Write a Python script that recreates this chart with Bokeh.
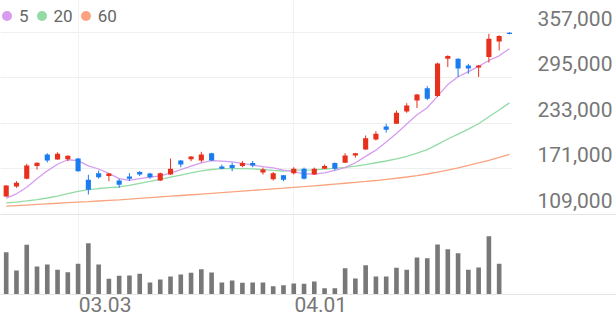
from bokeh.plotting import figure
from bokeh.models import (Range1d, LinearAxis, Grid, FixedTicker, Legend, LegendItem,
                          ColumnDataSource, NumeralTickFormatter)
from bokeh.core.properties import value
from bokeh.layouts import column
from bokeh.embed import file_html
from bokeh.resources import INLINE

# ---------------- data ----------------
dates = ["02.19", "02.20", "02.23", "02.24", "02.25", "02.26", "02.27",
         "03.03", "03.04", "03.05", "03.06", "03.09", "03.10", "03.11", "03.12", "03.13",
         "03.16", "03.17", "03.18", "03.19", "03.20", "03.23", "03.24", "03.25", "03.26",
         "03.27", "03.30", "03.31",
         "04.01", "04.02", "04.03", "04.06", "04.07", "04.08", "04.09", "04.10", "04.13",
         "04.14", "04.15", "04.16", "04.17", "04.20", "04.21", "04.22", "04.23", "04.24",
         "04.27", "04.28", "04.29", "04.30"]

opens = [133500, 147200, 157700, 175000, 190800, 183900, 184400, 185200, 156300, 165300,
         161500, 155300, 160800, 166900, 164700, 155300, 163400, 182600, 184400, 182600,
         192500, 174400, 176500, 175000, 179100, 166100, 157100, 162600, 165300, 171500,
         163400, 171500, 179100, 179600, 189400, 197600, 211200, 228900, 232600, 249400,
         264300, 281100, 270500, 321400, 321400, 312000, 309300, 323600, 344700, 356500]
highs = [149000, 154400, 178100, 180000, 192500, 193900, 189500, 186000, 163100, 169000,
         165300, 157700, 165300, 168300, 165800, 166200, 185200, 183300, 188500, 194400,
         193000, 177000, 179600, 181900, 181900, 172900, 166900, 163000, 173400, 172900,
         172900, 177100, 180000, 192500, 193000, 216700, 222500, 232600, 250700, 260700,
         273200, 283900, 315900, 326000, 321800, 314300, 312700, 355200, 353200, 357500]
lows = [133000, 145400, 157000, 170200, 179900, 183500, 181600, 167400, 136300, 157700,
        154400, 145400, 154400, 161500, 157700, 154400, 163000, 173400, 181600, 179900,
        182000, 170600, 168000, 173400, 173400, 163400, 155300, 154400, 163500, 156700,
        163000, 171000, 169000, 179300, 186500, 197000, 209800, 220600, 232300, 247600,
        254100, 264800, 269100, 310000, 296400, 300700, 296400, 316000, 332500, 354500]
closes = [148500, 152200, 175800, 179600, 182600, 191700, 189000, 168000, 142700, 159800,
          164700, 149700, 157700, 163400, 159800, 165300, 171500, 177100, 188000, 190800,
          182600, 171500, 172400, 179100, 175800, 170200, 165300, 156300, 171500, 157700,
          171500, 175000, 171500, 189400, 192500, 213000, 219000, 224400, 247600, 257500,
          272500, 266700, 314600, 325000, 307800, 307800, 312000, 348400, 352200, 355000]

ma5 = [131200, 137200, 146200, 157600, 168500, 177500, 183600, 182400, 175300, 171000,
       165000, 157800, 155600, 157800, 159900, 161500, 165500, 170000, 174800, 179400,
       182300, 181800, 180700, 178700, 176200, 174100, 172600, 169600, 167300, 164500,
       164000, 165800, 169200, 172800, 179500, 188200, 196700, 207700, 219300, 232300,
       244800, 254500, 270300, 286000, 296700, 303600, 310900, 318800, 325200, 334900]
ma20 = [124900, 126000, 127500, 129400, 131500, 134000, 137400, 140600, 142800, 144400,
        145500, 146500, 148600, 151300, 154000, 156800, 159800, 162800, 165800, 168500,
        170300, 171400, 171400, 171400, 171100, 170100, 169000, 168300, 169400, 169500,
        169900, 171000, 171800, 173100, 174800, 177000, 179500, 181900, 184900, 188200,
        192700, 197400, 204600, 211900, 218500, 225300, 232700, 242300, 251300, 261100]
ma60 = [120300, 121100, 121900, 122700, 123500, 124300, 125100, 125900, 126600, 127400,
        128200, 129000, 129900, 130900, 131900, 132900, 133900, 134900, 135900, 136900,
        137900, 138900, 139900, 140900, 141900, 142900, 143900, 144900, 146000, 147000,
        148100, 149200, 150400, 151600, 152800, 154000, 155300, 156800, 158400, 160100,
        162000, 164200, 166800, 169600, 172600, 175800, 179200, 182800, 186800, 191000]

volumes = [423000, 240000, 497000, 280000, 300000, 247000, 223000, 307000, 513000, 300000,
           157000, 187000, 190000, 207000, 120000, 150000, 180000, 200000, 217000, 253000,
           220000, 120000, 140000, 117000, 120000, 120000, 83000, 93000, 110000, 107000,
           130000, 63000, 63000, 263000, 160000, 293000, 180000, 180000, 267000, 247000,
           370000, 363000, 500000, 453000, 413000, 247000, 270000, 583000, 307000, 0]

price_ticks = [109000, 171000, 233000, 295000, 357000]
date_ticks = ["03.03", "04.01"]
ma_labels = ["5", "20", "60"]

# ---------------- style ----------------
RED = "#e8311d"
BLUE = "#1b7cf0"
C5 = "#d69cf0"
C20 = "#93dba5"
C60 = "#f9a47f"
GRID = "#efefef"
LINE = "#e4e4e4"
TXT = "#777777"
FONT = "Roboto"

PX = 10.27          # pixels per trading day
X0 = -0.555         # left edge of the plot, in days
PRICE_W = 512
PRICE_H = 214
Y_LO, Y_HI = 109000, 400604
LBL_SHIFT = 19077   # right-axis labels sit above their grid lines

idx = list(range(len(dates)))
tick_idx = [dates.index(d) for d in date_ticks]

up = [i for i in idx if closes[i] >= opens[i]]
dn = [i for i in idx if closes[i] < opens[i]]


def src(sel):
    return ColumnDataSource(dict(
        x=sel,
        top=[max(opens[i], closes[i]) for i in sel],
        bottom=[min(opens[i], closes[i]) for i in sel],
        high=[highs[i] for i in sel],
        low=[lows[i] for i in sel],
    ))


def no_align(fig):
    try:
        fig.frame_align = False
    except Exception:
        pass


# ---------------- price pane ----------------
p = figure(frame_width=PRICE_W, frame_height=PRICE_H,
           x_range=Range1d(X0, X0 + PRICE_W / PX), y_range=Range1d(Y_LO, Y_HI),
           x_axis_type=None, y_axis_type=None, output_backend="svg",
           toolbar_location=None, min_border=0, outline_line_color=None,
           background_fill_color="white", border_fill_color="white")
no_align(p)

p.add_layout(Grid(dimension=1, ticker=FixedTicker(ticks=price_ticks),
                  grid_line_color=GRID, grid_line_width=1))
p.add_layout(Grid(dimension=0, ticker=FixedTicker(ticks=tick_idx),
                  grid_line_color="#f2f2f2", grid_line_width=1))

p.extra_y_ranges = {"lbl": Range1d(Y_LO - LBL_SHIFT, Y_HI - LBL_SHIFT)}
yax = LinearAxis(y_range_name="lbl", ticker=FixedTicker(ticks=price_ticks),
                 formatter=NumeralTickFormatter(format="0,0"),
                 axis_line_color=None, major_tick_line_color=None, minor_tick_line_color=None,
                 major_tick_out=0, major_tick_in=0, minor_tick_out=0, minor_tick_in=0,
                 major_label_standoff=25, major_label_text_font=FONT,
                 major_label_text_font_size="21px", major_label_text_color=TXT)
p.add_layout(yax, "right")

p.line(idx, ma60, line_color=C60, line_width=1.3)
p.line(idx, ma20, line_color=C20, line_width=1.3)
p.line(idx, ma5, line_color=C5, line_width=1.3)

for sel, col in ((up, RED), (dn, BLUE)):
    s = src(sel)
    p.segment(x0="x", y0="low", x1="x", y1="high", source=s, line_color=col, line_width=1)
    p.vbar(x="x", width=0.5, top="top", bottom="bottom", source=s,
           fill_color=col, line_color=None)

# legend: round dots (zero-size markers on the first point of each average)
dots = []
for c, series in ((C5, ma5), (C20, ma20), (C60, ma60)):
    dots.append(p.scatter(x=[idx[0]], y=[series[0]], size=0, marker="circle",
                          fill_color=c, line_color=None))
legend = Legend(items=[LegendItem(label=value(t), renderers=[r]) for t, r in zip(ma_labels, dots)],
                orientation="horizontal", location=(-6, 186), margin=0, padding=0,
                spacing=-1, glyph_width=25, glyph_height=25, label_standoff=-4,
                label_width=0, label_height=25, label_text_font=FONT,
                label_text_font_size="17px", label_text_color="#666666",
                background_fill_alpha=0, border_line_alpha=0)
p.add_layout(legend)

# ---------------- volume pane ----------------
VOL_W = 616
v = figure(width=VOL_W, height=107,
           x_range=Range1d(X0, X0 + VOL_W / PX), y_range=Range1d(0, 800000),
           x_axis_type=None, y_axis_type=None, output_backend="svg",
           toolbar_location=None, min_border_left=0, min_border_right=0,
           min_border_top=0, min_border_bottom=27, outline_line_color=None,
           background_fill_color="white", border_fill_color="white")
no_align(v)

v.add_layout(Grid(dimension=0, ticker=FixedTicker(ticks=tick_idx),
                  grid_line_color="#f2f2f2", grid_line_width=1))

top_line = LinearAxis(ticker=FixedTicker(ticks=[]), axis_line_color=LINE,
                      major_tick_out=0, major_tick_in=0, minor_tick_out=0, minor_tick_in=0,
                      major_label_standoff=0, major_label_text_font_size="0px")
v.add_layout(top_line, "above")

LBL_DX = 27 / PX    # date labels start at their grid line
v.extra_x_ranges = {"lbl": Range1d(X0 - LBL_DX, X0 + VOL_W / PX - LBL_DX)}
xax = LinearAxis(x_range_name="lbl", ticker=FixedTicker(ticks=tick_idx),
                 major_label_overrides={i: d for i, d in zip(tick_idx, date_ticks)},
                 axis_line_color=LINE, axis_line_width=1,
                 major_tick_line_color=None, minor_tick_line_color=None,
                 major_tick_out=0, major_tick_in=0, minor_tick_out=0, minor_tick_in=0,
                 major_label_standoff=2, major_label_text_font=FONT,
                 major_label_text_font_size="21px", major_label_text_color=TXT)
v.add_layout(xax, "below")

v.vbar(x=idx, top=volumes, width=0.45, fill_color="#787878", line_color=None)

layout = column(p, v, spacing=0)
open("out.html", "w").write(file_html(layout, INLINE))
